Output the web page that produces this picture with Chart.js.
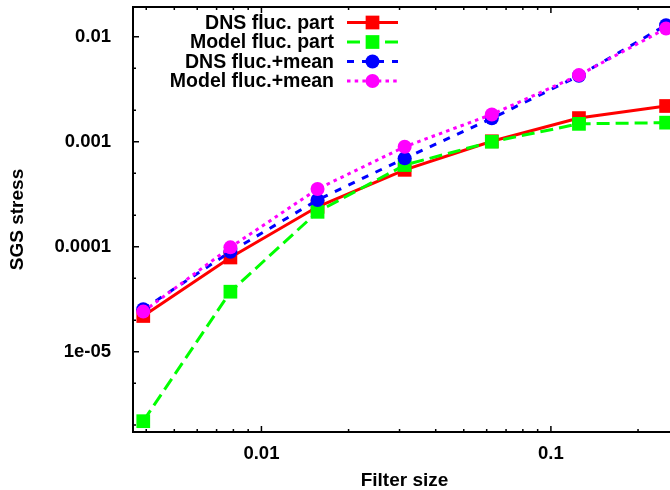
<!DOCTYPE html>
<html><head><meta charset="utf-8">
<script src="https://cdn.jsdelivr.net/npm/chart.js@4/dist/chart.umd.min.js"></script>
<style>html,body{margin:0;padding:0;overflow:hidden;background:#fff;width:670px;height:490px}canvas{display:block}</style>
</head><body>
<canvas id="c" width="680" height="490"></canvas>
<script>
// ---- data ----
const filterSizes = [1/256, 1/128, 1/64, 1/32, 1/16, 1/8, 1/4];
const dnsFlucPart   = [2.19e-5, 7.9e-5, 2.4e-4, 5.4e-4, 1.01e-3, 1.68e-3, 2.19e-3];
const modelFlucPart = [2.18e-6, 3.73e-5, 2.15e-4, 6.0e-4, 1.0e-3, 1.48e-3, 1.52e-3];
const dnsFlucMean   = [2.54e-5, 8.95e-5, 2.79e-4, 6.95e-4, 1.67e-3, 4.25e-3, 1.29e-2];
const modelFlucMean = [2.41e-5, 9.87e-5, 3.55e-4, 8.96e-4, 1.82e-3, 4.31e-3, 1.20e-2];
const seriesLabels = ['DNS fluc. part', 'Model fluc. part', 'DNS fluc.+mean', 'Model fluc.+mean'];
const xAxisTitle = 'Filter size';
const yAxisTitle = 'SGS stress';
const xMajorTicks = [0.01, 0.1];
const xTickLabels = ['0.01', '0.1'];
const xMinorTicks = [0.004, 0.005, 0.006, 0.007, 0.008, 0.009, 0.02, 0.03, 0.04, 0.05, 0.06, 0.07, 0.08, 0.09, 0.2];
const yMajorTicks = [0.01, 0.001, 0.0001, 0.00001];
const yTickLabels = ['0.01', '0.001', '0.0001', '1e-05'];
const yMinorTicks = [0.005, 0.002, 0.0005, 0.0002, 0.00005, 0.00002, 0.000005, 0.000002];
const xRange = [0.0036, 0.2705];
const yRange = [1.72e-6, 0.0192];

// ---- chart ----
const FONT = "'Liberation Sans', Arial, Helvetica, sans-serif";
Chart.defaults.font.family = FONT;
Chart.defaults.color = '#000';

function mk(values) { return filterSizes.map((x, i) => ({x: x, y: values[i]})); }
const styles = [
  {color: '#ff0000', dash: [], shape: 'rect', radius: 9.7, order: 4},
  {color: '#00ff00', dash: [13, 6], shape: 'rect', radius: 9.7, order: 3},
  {color: '#0000ff', dash: [7, 8], shape: 'circle', radius: 7, order: 2},
  {color: '#ff00ff', dash: [3.5, 4.2], shape: 'circle', radius: 7, order: 1}
];
const seriesValues = [dnsFlucPart, modelFlucPart, dnsFlucMean, modelFlucMean];
const datasets = seriesValues.map((vals, i) => ({
  label: seriesLabels[i],
  data: mk(vals),
  borderColor: styles[i].color,
  backgroundColor: styles[i].color,
  borderWidth: 3,
  borderDash: styles[i].dash,
  pointStyle: styles[i].shape,
  pointRadius: styles[i].radius,
  pointBorderWidth: 0,
  pointBackgroundColor: styles[i].color,
  pointHoverRadius: styles[i].radius,
  tension: 0,
  order: styles[i].order
}));

const framePlugin = {
  id: 'frameTicks',
  beforeDatasetsDraw(chart) {
    const {ctx, chartArea: a, scales: {x, y}} = chart;
    ctx.save();
    ctx.strokeStyle = '#000';
    ctx.lineWidth = 1.5;
    const tick = (vals, len) => {
      vals.forEach(v => {
        const px = x.getPixelForValue(v);
        ctx.beginPath();
        ctx.moveTo(px, a.bottom); ctx.lineTo(px, a.bottom - len);
        ctx.moveTo(px, a.top); ctx.lineTo(px, a.top + len);
        ctx.stroke();
      });
    };
    const ytick = (vals, len) => {
      vals.forEach(v => {
        const py = y.getPixelForValue(v);
        ctx.beginPath();
        ctx.moveTo(a.left, py); ctx.lineTo(a.left + len, py);
        ctx.moveTo(a.right, py); ctx.lineTo(a.right - len, py);
        ctx.stroke();
      });
    };
    tick(xMajorTicks, 6); tick(xMinorTicks, 3);
    ytick(yMajorTicks, 6); ytick(yMinorTicks, 3);
    ctx.lineWidth = 2;
    ctx.strokeRect(a.left, a.top, a.right - a.left, a.bottom - a.top);
    ctx.restore();
  }
};

const legendPlugin = {
  id: 'insideLegend',
  afterDatasetsDraw(chart) {
    const ctx = chart.ctx;
    ctx.save();
    ctx.font = 'bold 19.5px ' + FONT;
    ctx.textAlign = 'right';
    ctx.textBaseline = 'middle';
    chart.data.datasets.forEach((ds, i) => {
      const yy = 22.5 + 19.5 * i;
      ctx.fillStyle = '#000';
      ctx.fillText(ds.label, 334, yy + 1);
      ctx.strokeStyle = ds.borderColor;
      ctx.lineWidth = ds.borderWidth;
      ctx.setLineDash(ds.borderDash);
      ctx.beginPath(); ctx.moveTo(347, yy); ctx.lineTo(398, yy); ctx.stroke();
      ctx.setLineDash([]);
      ctx.fillStyle = ds.backgroundColor;
      ctx.beginPath();
      if (ds.pointStyle === 'rect') {
        const s = ds.pointRadius * Math.SQRT1_2;
        ctx.rect(372.5 - s, yy - s, 2 * s, 2 * s);
      } else {
        ctx.arc(372.5, yy, ds.pointRadius, 0, Math.PI * 2);
      }
      ctx.fill();
    });
    ctx.restore();
  }
};

new Chart(document.getElementById('c'), {
  type: 'line',
  data: {datasets: datasets},
  plugins: [framePlugin, legendPlugin],
  options: {
    responsive: false,
    animation: false,
    layout: {autoPadding: false, padding: {left: 0, top: 7, right: 4, bottom: 0}},
    plugins: {legend: {display: false}, tooltip: {enabled: false}},
    scales: {
      x: {
        type: 'logarithmic',
        min: xRange[0], max: xRange[1],
        grid: {display: false},
        border: {display: false},
        afterBuildTicks: s => { s.ticks = xMajorTicks.map(v => ({value: v})); },
        afterFit: s => { s.height = 58; s.paddingLeft = 0; s.paddingRight = 0; },
        ticks: {
          autoSkip: false, maxRotation: 0, padding: 3,
          font: {size: 18.5, weight: 'bold'},
          callback: (v, i) => xTickLabels[i]
        },
        title: {display: true, text: xAxisTitle, font: {size: 19, weight: 'bold', lineHeight: 1}, padding: {top: 0, bottom: 0}}
      },
      y: {
        type: 'logarithmic',
        min: yRange[0], max: yRange[1],
        grid: {display: false},
        border: {display: false},
        afterBuildTicks: s => { s.ticks = yMajorTicks.map(v => ({value: v})); },
        afterFit: s => { s.width = 133; s.paddingTop = 0; s.paddingBottom = 0; },
        ticks: {
          autoSkip: false, padding: 14,
          font: {size: 18.5, weight: 'bold'},
          callback: (v, i) => yTickLabels[i]
        },
        title: {display: true, text: yAxisTitle, font: {size: 19, weight: 'bold', lineHeight: 1}, padding: {top: 8, bottom: 0}}
      }
    }
  }
});
</script>
</body></html>
